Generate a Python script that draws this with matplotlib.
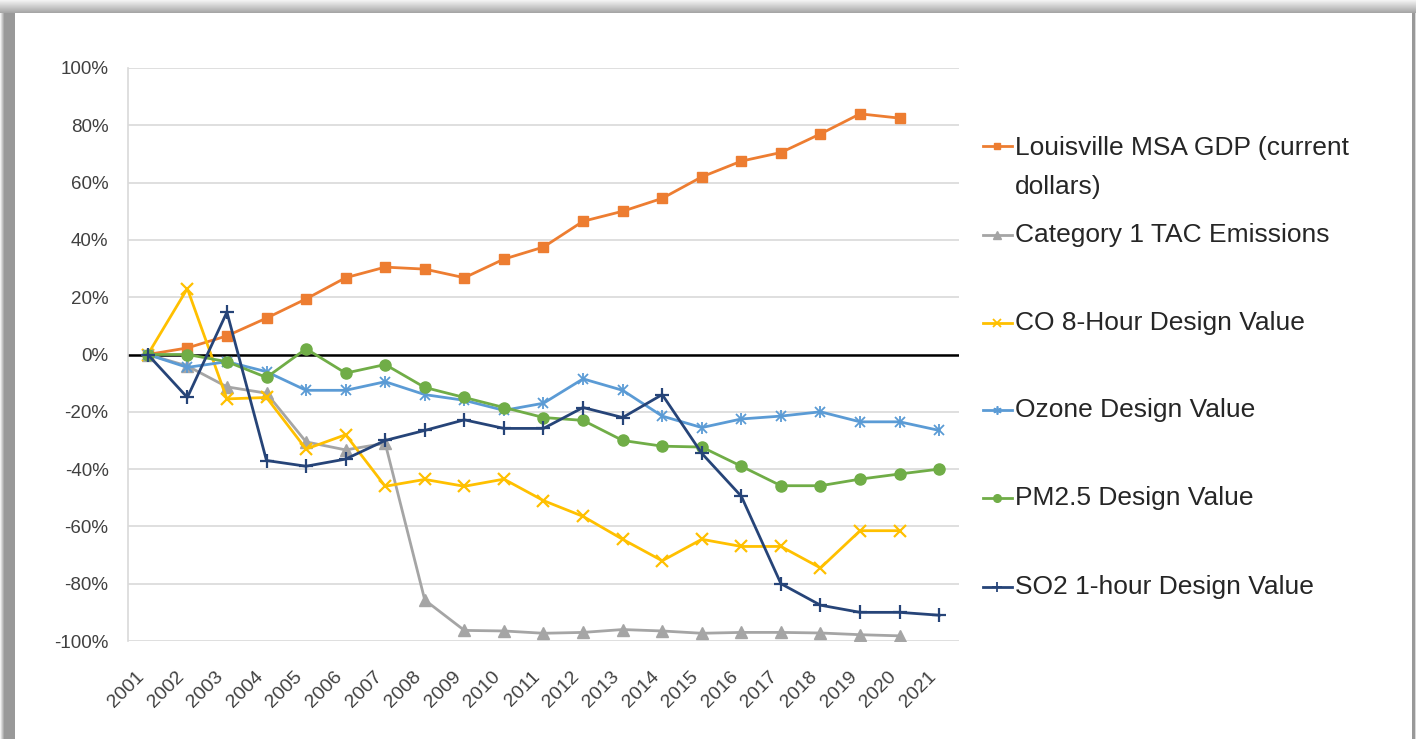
import numpy as np
import matplotlib
matplotlib.use("Agg")
import matplotlib.pyplot as plt
from matplotlib.lines import Line2D
from matplotlib.patches import Rectangle

plt.rcParams['font.family'] = ['Liberation Sans', 'DejaVu Sans']

years = [str(y) for y in range(2001, 2022)]

gdp = [0, 2.3, 6.5, 12.7, 19.4, 26.8, 30.5, 29.8, 26.8, 33.3, 37.5, 46.5, 50,
       54.5, 62, 67.5, 70.5, 77, 84, 82.5]
tac = [0, -4, -11.3, -13.5, -30.5, -33.3, -31, -85.7, -96.3, -96.5, -97.3,
       -97, -96, -96.5, -97.3, -97, -97, -97.2, -97.8, -98.2]
co = [0, 23, -15.5, -15, -33, -28, -46, -43.6, -46, -43.5, -51, -56.5, -64.5,
      -72, -64.5, -67, -67, -74.5, -61.5, -61.5]
ozone = [0, -4.5, -2.5, -6, -12.5, -12.5, -9.5, -14, -16, -19.5, -17, -8.5,
         -12.5, -21.5, -25.5, -22.5, -21.5, -20, -23.5, -23.5, -26.5]
pm25 = [0, 0, -2.5, -8, 2, -6.5, -3.5, -11.5, -15, -18.5, -22, -23, -30, -32,
        -32.3, -39, -45.8, -45.8, -43.5, -41.7, -40]
so2 = [0, -15, 14.8, -37, -39, -36.5, -30, -26.5, -22.8, -25.8, -25.8, -18.5,
       -22, -14, -34.5, -49.5, -80, -87.5, -90, -90, -91]

labels = ["Louisville MSA GDP (current\ndollars)", "Category 1 TAC Emissions",
          "CO 8-Hour Design Value", "Ozone Design Value",
          "PM2.5 Design Value", "SO2 1-hour Design Value"]

W, H = 1416, 739
fig = plt.figure(figsize=(W / 100, H / 100), dpi=100)

# grey shadow frame around the chart (pixel strips)
for i in range(15):
    g = max(0.6, 0.95 - 0.09 * i)
    fig.add_artist(Rectangle((i / W, 0), 1 / W, 1, transform=fig.transFigure,
                             color=str(g), lw=0, zorder=-5))
for j in range(13):
    g = 0.95 - 0.30 * j / 12
    fig.add_artist(Rectangle((0, 1 - (j + 1) / H), 1, 1 / H,
                             transform=fig.transFigure, color=str(g), lw=0,
                             zorder=-4))
fig.add_artist(Rectangle((1412 / W, 0), 3 / W, 1 - 13 / H,
                         transform=fig.transFigure, color='0.6', lw=0, zorder=-4))
fig.add_artist(Rectangle((1415 / W, 0), 1 / W, 1 - 13 / H,
                         transform=fig.transFigure, color='0.85', lw=0, zorder=-4))

ax = fig.add_axes([128 / W, 1 - 641 / H, (959 - 128) / W, (641 - 68) / H])
x = np.arange(len(years))

lw = 2
ax.plot(x[:len(gdp)], gdp, color='#ED7D31', lw=lw, marker='s', ms=7.5, zorder=3)
ax.plot(x[:len(tac)], tac, color='#A5A5A5', lw=lw, marker='^', ms=8, zorder=3)
ax.plot(x[:len(co)], co, color='#FFC000', lw=lw, marker='x', ms=8, mew=1.6, zorder=3)
ax.plot(x[:len(ozone)], ozone, color='#5B9BD5', lw=lw, marker='x', ms=7, mew=1.3, zorder=3)
ax.plot(x[:len(ozone)], ozone, color='#5B9BD5', lw=0, marker='|', ms=9, mew=1.3, zorder=3)
ax.plot(x[:len(pm25)], pm25, color='#70AD47', lw=lw, marker='o', ms=8, zorder=3)
ax.plot(x[:len(so2)], so2, color='#264478', lw=lw, marker='+', ms=10, mew=1.6, zorder=3)

ax.axhline(0, color='black', lw=1.8, zorder=2)

ax.set_ylim(-100, 100)
ax.set_xlim(-0.5, len(years) - 0.5)
ax.set_yticks(np.arange(-100, 101, 20))
ax.set_yticklabels([f"{v}%" for v in range(-100, 101, 20)])
ax.set_xticks(x)
ax.set_xticklabels(years, rotation=45, ha='right', va='bottom',
                   rotation_mode='anchor')
ax.tick_params(axis='both', length=0, labelsize=13.5, labelcolor='#404040')
ax.tick_params(axis='x', labelsize=14, pad=28)
ax.tick_params(axis='y', pad=14)
ax.grid(axis='y', color='#D9D9D9', lw=1.2, zorder=0)
for s in ['top', 'right', 'bottom']:
    ax.spines[s].set_visible(False)
ax.spines['left'].set_color('#D9D9D9')
ax.spines['left'].set_linewidth(1.2)

# legend drawn by hand so the two-line label keeps its key on the first line
styles = [
    dict(color='#ED7D31', marker='s', ms=5),
    dict(color='#A5A5A5', marker='^', ms=5.5),
    dict(color='#FFC000', marker='x', ms=5.5, mew=1.3),
    dict(color='#5B9BD5', marker=(6, 2, 0), ms=6, mew=1.2),
    dict(color='#70AD47', marker='o', ms=5.5),
    dict(color='#264478', marker='+', ms=7, mew=1.3),
]
key_y = [146, 235, 323, 410, 498, 587]
for lab, st, yy in zip(labels, styles, key_y):
    fy = 1 - yy / H
    fig.add_artist(Line2D([983 / W, 1012 / W], [fy, fy], transform=fig.transFigure,
                          color=st['color'], lw=2))
    fig.add_artist(Line2D([997 / W], [fy], transform=fig.transFigure, lw=0,
                          **st))
    ty = fy - 21.5 / H if '\n' in lab else fy
    fig.text(1015 / W, ty, lab, fontsize=19, color='#262626', ha='left',
             va='center', linespacing=1.75)

fig.savefig('out.png', dpi=100)
